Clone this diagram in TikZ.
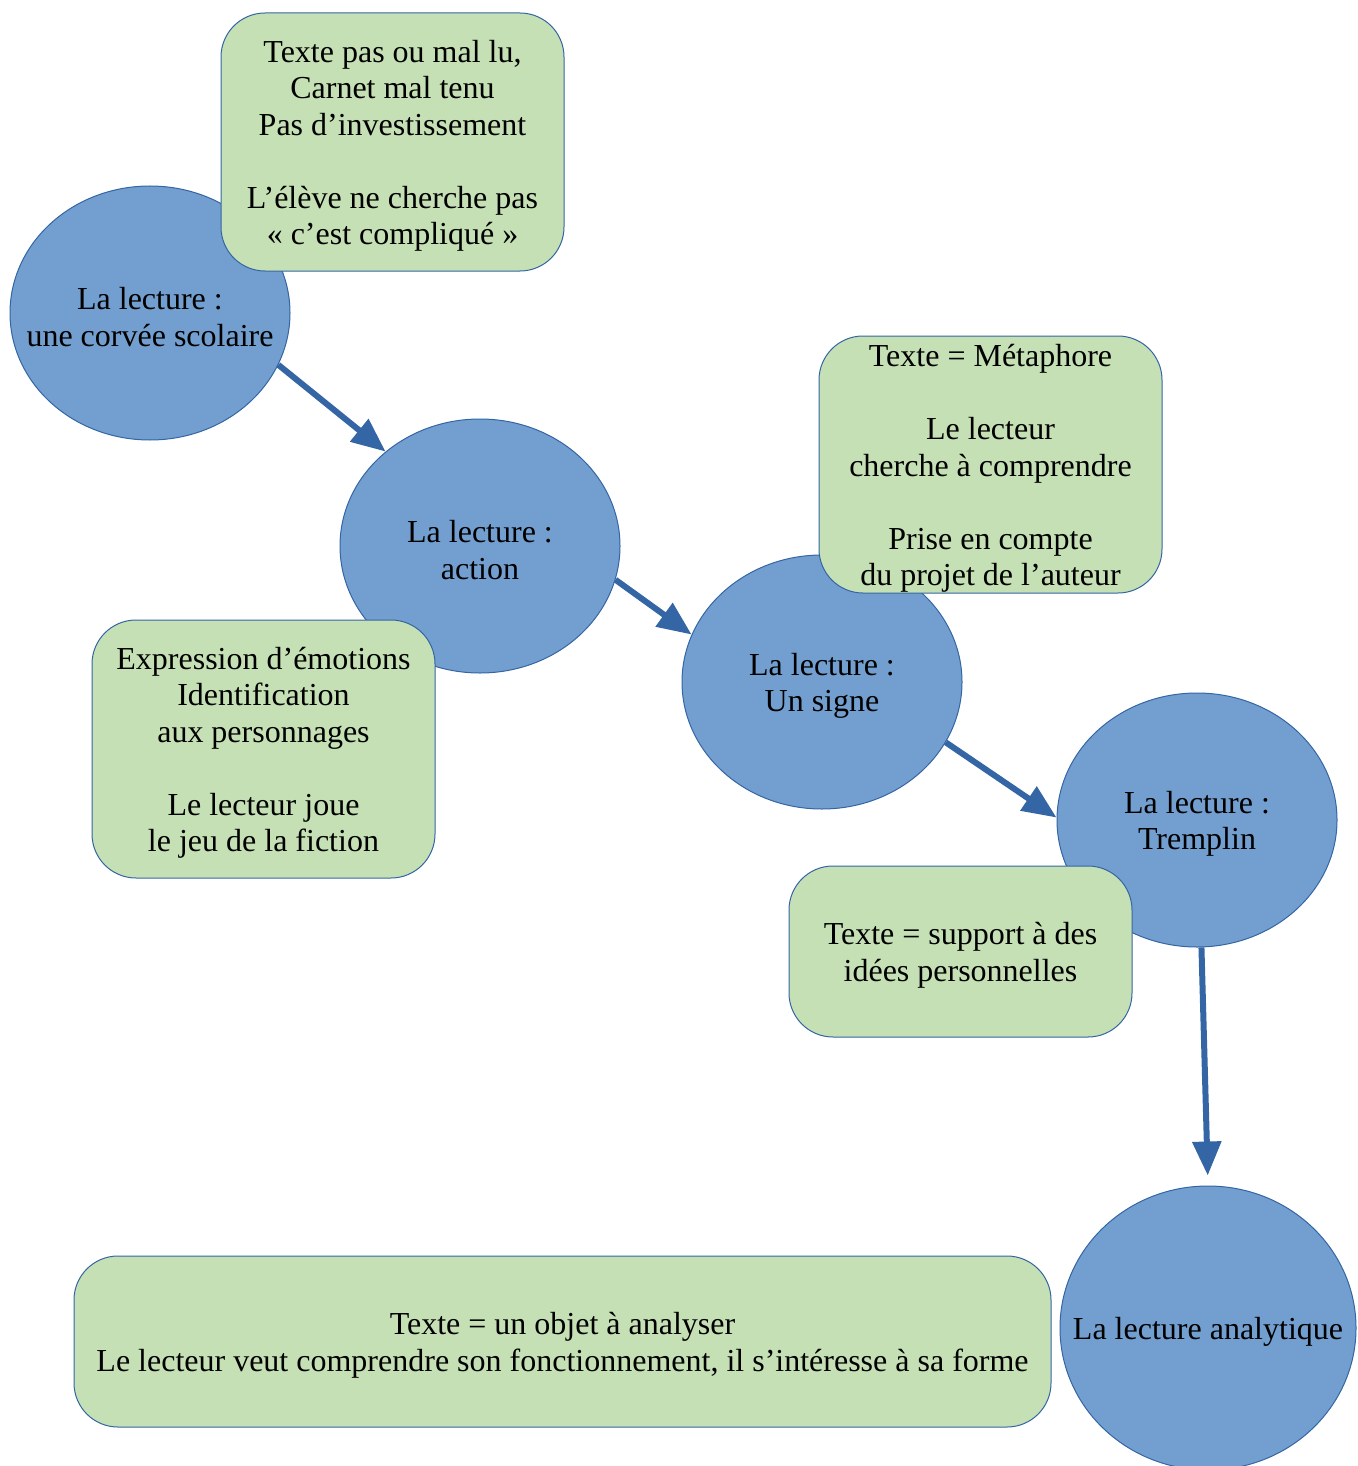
\documentclass[tikz,border=0pt]{standalone}
\usepackage{fontspec}
\setmainfont{Liberation Serif}
\usetikzlibrary{shapes.geometric, arrows.meta}
\definecolor{bulle}{HTML}{729FCF}
\definecolor{trait}{HTML}{3465A4}
\definecolor{vert}{HTML}{C5E0B4}

\begin{document}
\begin{tikzpicture}[x=0.5pt, y=-0.5pt,
    every node/.style={font=\fontsize{16}{18.25}\selectfont, align=center, inner sep=0pt},
    every label/.style={yshift=-2pt},
    bulle/.style={ellipse, draw=trait, line width=0.5pt, fill=bulle, minimum width=140pt, minimum height=127pt},
    note/.style={rectangle, rounded corners=22pt, draw=trait, line width=0.5pt, fill=vert},
    fleche/.style={draw=trait, line width=3pt, -{Triangle[length=17pt,width=14pt]}}]
    \useasboundingbox (0,0) rectangle (1357,1466);
    % etapes de la lecture
    \node[bulle, label=center:{La lecture :\\ une corvée scolaire}] (c1) at (150,313) {};
    \node[note, minimum width=171.5pt, minimum height=129pt, label=center:{Texte pas ou mal lu,\\ Carnet mal tenu\\ Pas d’investissement\\[18.25pt] L’élève ne cherche pas\\ « c’est compliqué »}] (n1) at (392.5,142) {};
    \node[bulle, label=center:{La lecture :\\ action}] (c2) at (480,546) {};
    \node[note, minimum width=171.5pt, minimum height=129pt, label=center:{Expression d’émotions\\ Identification\\ aux personnages\\[18.25pt] Le lecteur joue\\ le jeu de la fiction}] (n2) at (263.5,749) {};
    \node[bulle, label=center:{La lecture :\\ Un signe}] (c3) at (822,682) {};
    \node[note, minimum width=171.5pt, minimum height=128.5pt, label=center:{Texte = Métaphore\\[18.25pt] Le lecteur\\ cherche à comprendre\\[18.25pt] Prise en compte\\ du projet de l’auteur}] (n3) at (990.5,464.5) {};
    \node[bulle, label=center:{La lecture :\\ Tremplin}] (c4) at (1197,820) {};
    \node[note, minimum width=171.5pt, minimum height=85.5pt, label=center:{Texte = support à des\\ idées personnelles}] (n4) at (960.5,951.5) {};
    \node[bulle, minimum width=148pt, minimum height=142pt, label=center:{La lecture analytique}] (c5) at (1208,1328) {};
    \node[note, minimum width=488.5pt, minimum height=85.5pt, label=center:{Texte = un objet à analyser\\ Le lecteur veut comprendre son fonctionnement, il s’intéresse à sa forme}] (n5) at (562.5,1341.5) {};
    % fleches
    \draw[fleche] (c1.-22) -- (c2.135);
    \draw[fleche] (c2.-14) -- (c3.160);
    \draw[fleche] (c3.-26) -- (c4.179);
    \draw[fleche, shorten >=5pt] (c4.-88) -- (c5.90);
\end{tikzpicture}
\end{document}
